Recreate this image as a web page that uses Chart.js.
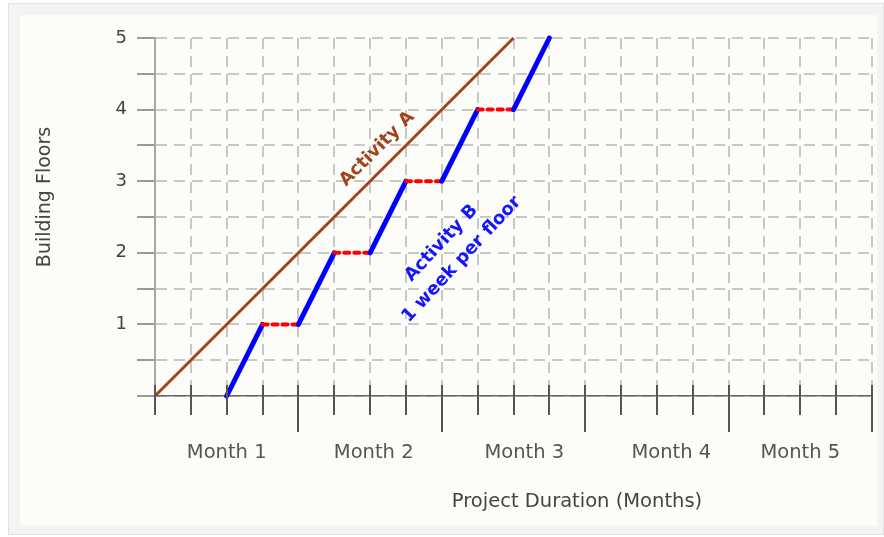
<!DOCTYPE html>
<html>
<head>
<meta charset="utf-8">
<script src="https://cdn.jsdelivr.net/npm/chart.js@4"></script>
<style>
  body { margin: 0; background: #fff; }
  #frame { position: absolute; left: 8px; top: 3px; width: 876px; height: 532px; background: #f4f4f4; border: 1px solid #e2e2e2; box-sizing: border-box; }
  #panel { position: absolute; left: 20px; top: 15px; width: 857px; height: 510px; background: #fcfcf9; }
  #myChart { position: absolute; left: 0; top: 0; }
</style>
</head>
<body>
<div id="frame"></div>
<div id="panel"></div>
<canvas id="myChart" width="884" height="537"></canvas>
<script>
// weeks on the x axis, floors on the y axis
const totalWeeks = 20;
const weeksPerMonth = 4;
const monthLabels = ['Month 1', 'Month 2', 'Month 3', 'Month 4', 'Month 5'];
const monthLabelWeeks = [2, 6.1, 10.3, 14.4, 18];
const floorLabels = ['1', '2', '3', '4', '5'];

const activityAWeeks = [0, 10];
const activityAFloors = [0, 5];

const activityBWeeks = [2, 3, 4, 5, 6, 7, 8, 9, 10, 11];
const activityBFloors = [0, 1, 1, 2, 2, 3, 3, 4, 4, 5];

const FONT = 'DejaVu Sans';

function toPoints(xs, ys) {
    return xs.map((x, i) => ({ x: x, y: ys[i] }));
}

// flat parts of activity B are the waiting week, drawn red dotted
const isWait = ctx => ctx.p0.parsed.y === ctx.p1.parsed.y;

const extras = {
    id: 'extras',
    afterDraw(chart) {
        const c = chart.ctx;
        const xs = chart.scales.x;
        const ys = chart.scales.y;
        const axisY = ys.getPixelForValue(0);

        // week tick marks, longer at month ends
        c.save();
        c.strokeStyle = '#555';
        c.lineWidth = 2;
        for (let w = 0; w <= totalWeeks; w++) {
            const px = Math.round(xs.getPixelForValue(w));
            const long = w > 0 && w % weeksPerMonth === 0;
            c.beginPath();
            c.moveTo(px, axisY - 11);
            c.lineTo(px, axisY + (long ? 36 : 19));
            c.stroke();
        }
        c.restore();

        // axis titles
        c.save();
        c.fillStyle = '#444';
        c.font = '19.5px ' + FONT;
        c.textAlign = 'center';
        c.textBaseline = 'middle';
        c.fillText('Project Duration (Months)', 577, 502);
        c.font = '19px ' + FONT;
        c.translate(45, 197);
        c.rotate(-Math.PI / 2);
        c.fillText('Building Floors', 0, 0);
        c.restore();

        // annotations
        c.save();
        c.textAlign = 'center';
        c.textBaseline = 'middle';
        c.font = 'bold 18px ' + FONT;
        c.fillStyle = '#a0441c';
        c.translate(xs.getPixelForValue(6.2), ys.getPixelForValue(3.45));
        c.rotate(-Math.PI / 4);
        c.fillText('Activity A', 0, 0);
        c.restore();

        c.save();
        c.textAlign = 'center';
        c.textBaseline = 'middle';
        c.font = 'bold 18px ' + FONT;
        c.fillStyle = '#1414ff';
        c.translate(xs.getPixelForValue(8.27), ys.getPixelForValue(2.02));
        c.rotate(-47 * Math.PI / 180);
        c.fillText('Activity B', -1, -13);
        c.fillText('1 week per floor', 1, 13);
        c.restore();
    }
};

const ctx = document.getElementById('myChart').getContext('2d');
const myChart = new Chart(ctx, {
    type: 'line',
    data: {
        datasets: [{
            label: 'Activity A',
            data: toPoints(activityAWeeks, activityAFloors),
            borderColor: '#a0441c',
            borderWidth: 3,
            pointRadius: 0,
            clip: false
        }, {
            label: 'Activity B',
            data: toPoints(activityBWeeks, activityBFloors),
            borderColor: '#0000ff',
            borderWidth: 5,
            borderCapStyle: 'round',
            pointRadius: 0,
            clip: false,
            segment: {
                borderColor: ctx => isWait(ctx) ? '#ff0000' : '#0000ff',
                borderDash: ctx => isWait(ctx) ? [5, 5] : [],
                borderWidth: ctx => isWait(ctx) ? 4 : 5
            }
        }]
    },
    options: {
        responsive: false,
        devicePixelRatio: 1,
        animation: false,
        layout: { padding: { top: 38, right: 12, left: 0, bottom: 0 } },
        plugins: { legend: { display: false }, tooltip: { enabled: false } },
        scales: {
            x: {
                type: 'linear',
                position: 'bottom',
                min: 0,
                max: totalWeeks,
                ticks: { stepSize: 1, display: false },
                grid: { color: '#c8c8c8', lineWidth: 2, drawTicks: false },
                border: { color: '#666', width: 1.5, dash: [11, 7] },
                afterFit: s => { s.height = 0; }
            },
            x2: {
                type: 'linear',
                position: 'bottom',
                min: 0,
                max: totalWeeks,
                grid: { display: false },
                border: { display: false },
                afterBuildTicks: s => { s.ticks = monthLabelWeeks.map(v => ({ value: v })); },
                ticks: {
                    autoSkip: false,
                    maxRotation: 0,
                    padding: 37,
                    color: '#555',
                    font: { family: FONT, size: 19.5 },
                    callback: (v, i) => monthLabels[i]
                },
                afterFit: s => { s.height = 141; }
            },
            y: {
                min: 0,
                max: 5,
                ticks: {
                    stepSize: 0.5,
                    padding: 10,
                    color: '#444',
                    font: { family: FONT, size: 18 },
                    callback: v => (Number.isInteger(v) && v > 0) ? floorLabels[v - 1] : ''
                },
                grid: { color: '#c8c8c8', lineWidth: 2, tickLength: 18, tickColor: '#999', tickWidth: 2 },
                border: { color: '#a8a8a8', width: 2, dash: [11, 7] },
                afterFit: s => { s.width = 155; }
            }
        }
    },
    plugins: [extras]
});
</script>
</body>
</html>
